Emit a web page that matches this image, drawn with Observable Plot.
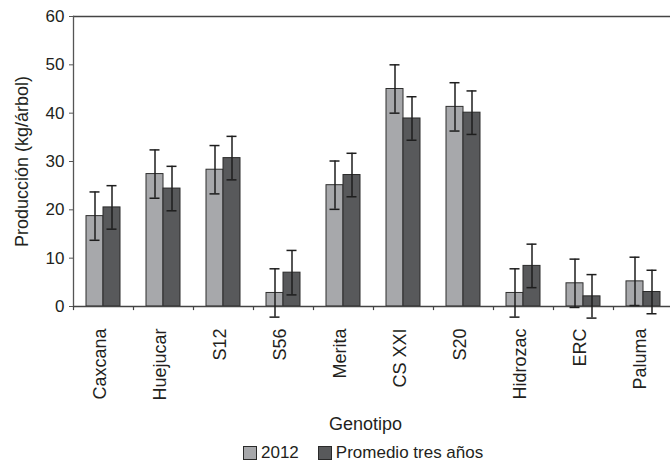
<!DOCTYPE html>
<html>
<head>
<meta charset="utf-8">
<script src="https://cdn.jsdelivr.net/npm/d3@7"></script>
<script src="https://cdn.jsdelivr.net/npm/@observablehq/plot@0.6"></script>
<style>
  body { margin: 0; background: #fff; font-family: "Liberation Sans", Arial, sans-serif; color: #231f20; }
  #legend { display: flex; align-items: center; height: 26px; padding-left: 243px; font-size: 17px; }
  .sw { width: 12px; height: 12px; border: 1px solid #2a2a2a; display: inline-block; }
  .item { display: flex; align-items: center; gap: 4px; margin-right: 19px; }
</style>
</head>
<body>
<div id="chart"></div>
<script>
const genotipos = ["Caxcana", "Huejucar", "S12", "S56", "Merita", "CS XXI", "S20", "Hidrozac", "ERC", "Paluma"];
const valores2012 = [18.7, 27.4, 28.3, 2.8, 25.1, 45.0, 41.3, 2.8, 4.8, 5.2];
const error2012 = [5.0, 5.0, 5.0, 5.0, 5.0, 5.0, 5.0, 5.0, 5.0, 5.0];
const valoresPromedio = [20.5, 24.4, 30.7, 7.0, 27.2, 38.9, 40.1, 8.4, 2.1, 3.0];
const errorPromedio = [4.5, 4.6, 4.5, 4.6, 4.5, 4.5, 4.5, 4.5, 4.5, 4.5];
const series = ["2012", "Promedio tres años"];
const yTicks = [0, 10, 20, 30, 40, 50, 60];

const colorLight = "#a7a8ab";
const colorDark = "#58595b";

const d2012 = genotipos.map((g, i) => ({g, v: valores2012[i], lo: valores2012[i] - error2012[i], hi: valores2012[i] + error2012[i]}));
const dProm = genotipos.map((g, i) => ({g, v: valoresPromedio[i], lo: valoresPromedio[i] - errorPromedio[i], hi: valoresPromedio[i] + errorPromedio[i]}));

const errStroke = "#1e1e1e";

const chart = Plot.plot({
  width: 670,
  height: 440,
  marginLeft: 73,
  marginRight: -3,
  marginTop: 16,
  marginBottom: 134,
  style: {fontFamily: "'Liberation Sans', Arial, sans-serif", color: "#231f20", background: "white", overflow: "visible"},
  x: {domain: genotipos, padding: 0, axis: null},
  y: {domain: [0, 60], axis: null},
  marks: [
    Plot.barY(d2012, {x: "g", y: "v", insetLeft: 13, insetRight: 30, fill: colorLight, stroke: "#2f2f2f", strokeWidth: 1}),
    Plot.barY(dProm, {x: "g", y: "v", insetLeft: 30, insetRight: 13, fill: colorDark, stroke: "#2a2a2a", strokeWidth: 1}),
    Plot.ruleY([0], {stroke: "#444", strokeWidth: 1.3}),
    Plot.ruleY([60], {stroke: "#444", strokeWidth: 1.3}),
    Plot.frame({anchor: "left", stroke: "#555", strokeWidth: 1.3}),
    Plot.ruleX(genotipos, {x: d => d, dx: -30, y1: 0, y2: -0.85, stroke: "#444", strokeWidth: 1.2}),
    Plot.ruleX(d2012, {x: "g", y1: "lo", y2: "hi", dx: -8.5, stroke: errStroke, strokeWidth: 1.5}),
    Plot.tickY(d2012, {x: "g", y: "hi", dx: -8.5, insetLeft: 25, insetRight: 25, stroke: errStroke, strokeWidth: 1.5}),
    Plot.tickY(d2012, {x: "g", y: "lo", dx: -8.5, insetLeft: 25, insetRight: 25, stroke: errStroke, strokeWidth: 1.5}),
    Plot.ruleX(dProm, {x: "g", y1: "lo", y2: "hi", dx: 8.5, stroke: errStroke, strokeWidth: 1.5}),
    Plot.tickY(dProm, {x: "g", y: "hi", dx: 8.5, insetLeft: 25, insetRight: 25, stroke: errStroke, strokeWidth: 1.5}),
    Plot.tickY(dProm, {x: "g", y: "lo", dx: 8.5, insetLeft: 25, insetRight: 25, stroke: errStroke, strokeWidth: 1.5}),
    Plot.axisY({ticks: yTicks, tickSize: 4, tickPadding: 5, fontSize: 17, label: null, stroke: "#555"}),
    Plot.text(genotipos, {x: d => d, y: 0, rotate: -90, textAnchor: "end", lineAnchor: "middle", dy: 22, dx: -3, fontSize: 18, fill: "#231f20"}),
    Plot.text(["Producción (kg/árbol)"], {frameAnchor: "left", rotate: -90, textAnchor: "middle", lineAnchor: "middle", dx: -51, fontSize: 18, fill: "#231f20"}),
    Plot.text(["Genotipo"], {frameAnchor: "bottom", textAnchor: "middle", dy: 123, dx: -8, fontSize: 18, fill: "#231f20"})
  ]
});
document.getElementById("chart").appendChild(chart);

const legend = document.createElement("div");
legend.id = "legend";
const fills = [colorLight, colorDark];
series.forEach((s, i) => {
  const item = document.createElement("span");
  item.className = "item";
  const sw = document.createElement("span");
  sw.className = "sw";
  sw.style.background = fills[i];
  const t = document.createElement("span");
  t.textContent = s;
  item.appendChild(sw);
  item.appendChild(t);
  legend.appendChild(item);
});
document.getElementById("chart").appendChild(legend);
</script>
</body>
</html>
